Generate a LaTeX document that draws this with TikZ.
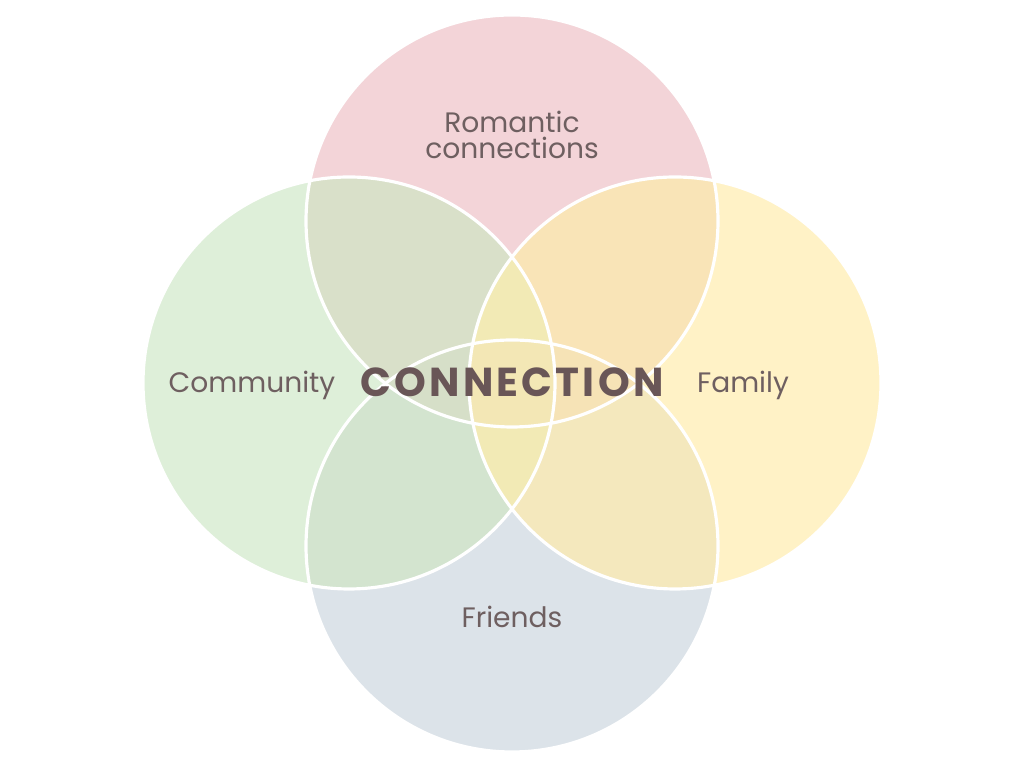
\documentclass[tikz,border=0pt]{standalone}
\usepackage{fontspec}
\setmainfont{Poppins}
\newfontfamily\hubfont[LetterSpace=8]{Poppins}
\definecolor{pinkcol}{HTML}{F3D4D8}
\definecolor{greencol}{HTML}{DEEFD9}
\definecolor{yellowcol}{HTML}{FFF2C6}
\definecolor{bluecol}{HTML}{DCE3E9}
\definecolor{tlcol}{HTML}{D9E0C9}
\definecolor{trcol}{HTML}{F9E4B7}
\definecolor{blcol}{HTML}{D3E4CF}
\definecolor{brcol}{HTML}{F4E8BD}
\definecolor{hlcol}{HTML}{D6DFC8}
\definecolor{hrcol}{HTML}{F6E3B6}
\definecolor{midcol}{HTML}{F2EAB5}
\definecolor{centcol}{HTML}{F3E7B5}
\definecolor{labelcol}{HTML}{6E5F60}
\definecolor{hubcol}{HTML}{695657}

\begin{document}
\begin{tikzpicture}[label/.style={text=labelcol,font=\fontsize{8}{7.4}\selectfont,align=center,anchor=base,inner sep=0pt},
  rim/.style={white,line width=0.9pt}]
  \useasboundingbox (0,0) rectangle (10.24,7.68);
  \def\rad{2.06}
  \coordinate (top) at (5.12,5.47);
  \coordinate (left) at (3.49,3.85);
  \coordinate (right) at (6.75,3.85);
  \coordinate (bottom) at (5.12,2.22);
  % circles
  \foreach \c/\clr in {top/pinkcol,left/greencol,right/yellowcol,bottom/bluecol}
    \fill[\clr] (\c) circle[radius=\rad];
  % two-way overlaps
  \foreach \a/\b/\clr in {top/left/tlcol,top/right/trcol,bottom/left/blcol,bottom/right/brcol} {
    \begin{scope}
      \clip (\a) circle[radius=\rad];
      \fill[\clr] (\b) circle[radius=\rad];
    \end{scope}
  }
  % middle lenses
  \begin{scope}
    \clip (left) circle[radius=\rad];
    \fill[midcol] (right) circle[radius=\rad];
  \end{scope}
  \begin{scope}
    \clip (top) circle[radius=\rad];
    \clip (bottom) circle[radius=\rad];
    \fill[hlcol] (left) circle[radius=\rad];
    \fill[hrcol] (right) circle[radius=\rad];
    \clip (left) circle[radius=\rad];
    \fill[centcol] (right) circle[radius=\rad];
  \end{scope}
  \foreach \c in {top,left,right,bottom}
    \draw[rim] (\c) circle[radius=\rad];
  % labels
  \node[label] (romantic) at (5.12,6.09) {Romantic\\connections};
  \node[label] (community) at (2.52,3.75) {Community};
  \node[label] (family) at (7.43,3.75) {Family};
  \node[label] (friends) at (5.12,1.40) {Friends};
  \node[anchor=base,inner sep=0pt,text=hubcol,font=\hubfont\bfseries\fontsize{11.5}{13}\selectfont] (hub) at (5.12,3.71) {CONNECTION};
\end{tikzpicture}
\end{document}
